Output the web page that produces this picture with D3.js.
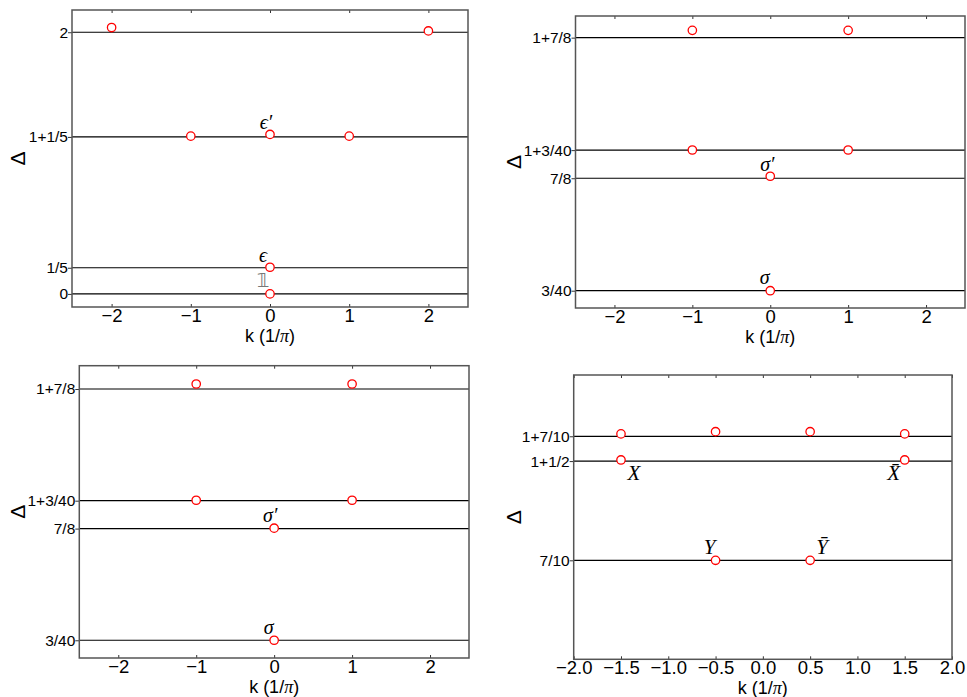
<!DOCTYPE html>
<html>
<head>
<meta charset="utf-8">
<script src="https://cdn.jsdelivr.net/npm/d3@7"></script>
<style>
  body { margin: 0; background: #fff; }
  svg { display: block; }
  .tick text { font-family: "Liberation Sans", Arial, sans-serif; fill: #000; }
</style>
</head>
<body>
<svg id="chart" width="967" height="697"></svg>
<script>
// panel a: Ising-like spectrum
const levelsA = [0, 0.2, 1.2, 2];
const levelLabelsA = ['0', '1/5', '1+1/5', '2'];
const kA = [-2, 2, -1, 0, 1, 0, 0];
const deltaA = [2.036, 2.010, 1.206, 1.219, 1.206, 0.204, 0];
const namesA = ['ϵ′', 'ϵ', '𝟙'];
const nameKA = [0, 0, 0];
const nameDeltaA = [1.219, 0.204, 0];

// panel b
const levelsB = [0.075, 0.875, 1.075, 1.875];
const levelLabelsB = ['3/40', '7/8', '1+3/40', '1+7/8'];
const kB = [-1, 1, -1, 1, 0, 0];
const deltaB = [1.927, 1.927, 1.076, 1.076, 0.889, 0.075];
const namesB = ['σ′', 'σ'];
const nameKB = [0, 0];
const nameDeltaB = [0.889, 0.075];

// panel c
const levelsC = [0.075, 0.875, 1.075, 1.875];
const levelLabelsC = ['3/40', '7/8', '1+3/40', '1+7/8'];
const kC = [-1, 1, -1, 1, 0, 0];
const deltaC = [1.911, 1.911, 1.078, 1.078, 0.878, 0.075];
const namesC = ['σ′', 'σ'];
const nameKC = [0, 0];
const nameDeltaC = [0.878, 0.075];

// panel d
const levelsD = [0.7, 1.5, 1.7];
const levelLabelsD = ['7/10', '1+1/2', '1+7/10'];
const kD = [-1.5, -0.5, 0.5, 1.5, -1.5, 1.5, -0.5, 0.5];
const deltaD = [1.719, 1.737, 1.737, 1.719, 1.509, 1.509, 0.7, 0.7];
const namesD = ['X', 'X̄', 'Y', 'Ȳ'];
const nameKD = [-1.5, 1.5, -0.5, 0.5];
const nameDeltaD = [1.509, 1.509, 0.7, 0.7];

const kTicks = [-2, -1, 0, 1, 2];
const kTicksD = [-2, -1.5, -1, -0.5, 0, 0.5, 1, 1.5, 2];

const svg = d3.select('#chart');

const panels = [
  { box: [72, 468, 10, 307], xDom: [-2.5, 2.5], yDom: [-0.1, 2.17], ticks: kTicks, fmt: d3.format('d'),
    levels: levelsA, levelLabels: levelLabelsA, k: kA, delta: deltaA,
    names: namesA, nk: nameKA, nd: nameDeltaA, off: [[-4, -5], [-7, -5.5], [-7, -7]], font: 20,
    nameColor: ['#000', '#000', '#777'], deltaX: 54.5 },
  { box: [575.5, 965, 16, 308], xDom: [-2.5, 2.5], yDom: [-0.048, 2.029], ticks: kTicks, fmt: d3.format('d'),
    levels: levelsB, levelLabels: levelLabelsB, k: kB, delta: deltaB,
    names: namesB, nk: nameKB, nd: nameDeltaB, off: [[-3, -5], [-5.5, -6.5]], font: 20,
    nameColor: ['#000', '#000'], deltaX: 62 },
  { box: [79.3, 469, 365.7, 658], xDom: [-2.5, 2.5], yDom: [-0.052, 2.042], ticks: kTicks, fmt: d3.format('d'),
    levels: levelsC, levelLabels: levelLabelsC, k: kC, delta: deltaC,
    names: namesC, nk: nameKC, nd: nameDeltaC, off: [[-4, -6.5], [-5.5, -6.3]], font: 20,
    nameColor: ['#000', '#000'], deltaX: 62 },
  { box: [573.7, 952, 375, 659.3], xDom: [-2, 2], yDom: [-0.098, 2.194], ticks: kTicksD, fmt: d3.format('.1f'),
    levels: levelsD, levelLabels: levelLabelsD, k: kD, delta: deltaD,
    names: namesD, nk: nameKD, nd: nameDeltaD, off: [[13, 20], [-11, 20], [-6, -6.3], [12, -6.3]], font: 21,
    nameColor: ['#000', '#000', '#000', '#000'], deltaX: 60 }
];

panels.forEach((p) => {
  const [left, right, top, bottom] = p.box;
  const x = d3.scaleLinear().domain(p.xDom).range([left, right]);
  const y = d3.scaleLinear().domain(p.yDom).range([bottom, top]);
  const g = svg.append('g');

  // level lines
  g.selectAll('line.level')
    .data(p.levels)
    .join('line')
    .attr('class', 'level')
    .attr('x1', left).attr('x2', right)
    .attr('y1', (d) => y(d)).attr('y2', (d) => y(d))
    .attr('stroke', '#000')
    .attr('stroke-width', 1.2);

  // axes
  const xAxis = g.append('g')
    .attr('transform', `translate(0,${bottom})`)
    .call(d3.axisBottom(x).tickValues(p.ticks).tickFormat(p.fmt).tickSize(-3).tickPadding(2));
  xAxis.selectAll('text').attr('font-size', 18.5);

  g.append('g')
    .attr('transform', `translate(0,${top})`)
    .call(d3.axisTop(x).tickValues(p.ticks).tickFormat('').tickSize(-3));

  const yAxis = g.append('g')
    .attr('transform', `translate(${left},0)`)
    .call(d3.axisLeft(y).tickValues(p.levels).tickFormat((d, i) => p.levelLabels[i]).tickSize(4).tickPadding(0));
  yAxis.selectAll('text').attr('font-size', 15.5);

  g.selectAll('.domain').remove();
  g.selectAll('.tick line').attr('stroke', '#333');

  // frame
  g.append('rect')
    .attr('x', left).attr('y', top)
    .attr('width', right - left).attr('height', bottom - top)
    .attr('fill', 'none')
    .attr('stroke', '#555')
    .attr('stroke-width', 1.5);

  // points
  g.selectAll('circle')
    .data(p.k.map((k, i) => ({ k, d: p.delta[i] })))
    .join('circle')
    .attr('cx', (d) => x(d.k))
    .attr('cy', (d) => y(d.d))
    .attr('r', 4.2)
    .attr('fill', '#fff')
    .attr('stroke', '#f00')
    .attr('stroke-width', 1.3);

  // state names
  g.selectAll('text.name')
    .data(p.names)
    .join('text')
    .attr('class', 'name')
    .attr('x', (d, i) => x(p.nk[i]) + p.off[i][0])
    .attr('y', (d, i) => y(p.nd[i]) + p.off[i][1])
    .attr('text-anchor', 'middle')
    .attr('font-family', (d) => (d === '𝟙' ? '"DejaVu Sans", sans-serif' : '"Liberation Serif", "DejaVu Serif", serif'))
    .attr('font-style', (d) => (d === '𝟙' ? 'normal' : 'italic'))
    .attr('font-size', p.font)
    .attr('fill', (d, i) => p.nameColor[i])
    .text((d) => d);

  // axis titles
  const xt = g.append('text')
    .attr('x', (left + right) / 2)
    .attr('y', bottom + 35)
    .attr('text-anchor', 'middle')
    .attr('font-family', '"Liberation Sans", Arial, sans-serif')
    .attr('font-size', 18);
  xt.append('tspan').text('k (1/');
  xt.append('tspan').attr('font-family', '"Liberation Serif", serif').attr('font-style', 'italic').text('π');
  xt.append('tspan').text(')');

  g.append('text')
    .attr('transform', `translate(${left - p.deltaX},${(top + bottom) / 2}) rotate(-90)`)
    .attr('text-anchor', 'middle')
    .attr('dominant-baseline', 'central')
    .attr('font-family', '"Liberation Sans", Arial, sans-serif')
    .attr('font-size', 21)
    .text('Δ');
});
</script>
</body>
</html>
